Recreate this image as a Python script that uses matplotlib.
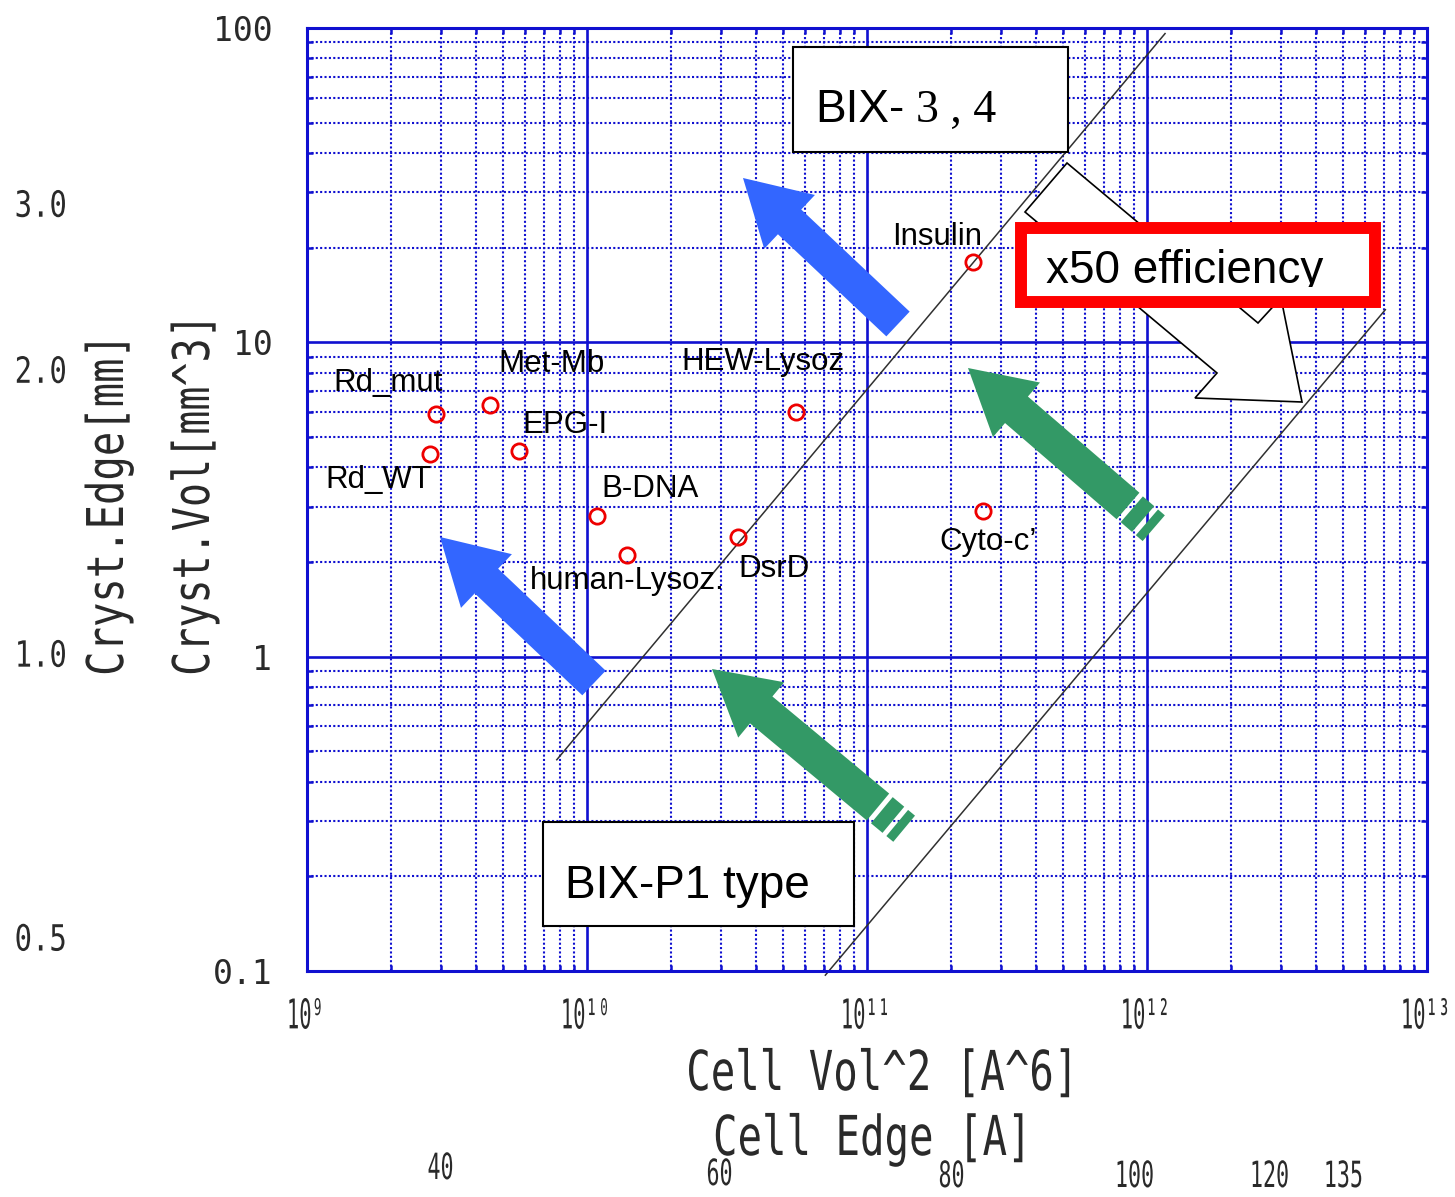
import numpy as np
import matplotlib
matplotlib.use('Agg')
import matplotlib.pyplot as plt
from matplotlib import patheffects
from matplotlib.patches import Polygon, Rectangle
from matplotlib.ticker import NullFormatter
from matplotlib.transforms import Affine2D, Bbox, TransformedBbox, blended_transform_factory

W, H = 1455, 1197

# protein crystals: squared cell volume [A^6] vs crystal volume [mm^3]
names = ['Rd_mut', 'Met-Mb', 'Rd_WT', 'EPG-I', 'B-DNA', 'human-Lysoz.',
         'DsrD', 'HEW-Lysoz', 'Insulin', 'Cyto-c\u2019']
cell_vol2 = [2.9e9, 4.5e9, 2.75e9, 5.7e9, 1.09e10, 1.39e10, 3.45e10, 5.6e10, 2.4e11, 2.6e11]
cryst_vol = [5.9, 6.3, 4.4, 4.5, 2.8, 2.1, 2.4, 6.0, 18.0, 2.9]

# measurable limits of the two diffractometers
bix34_x = [7.8e9, 1.16e12]
bix34_y = [0.47, 96.0]
bixp1_x = [7.1e10, 7.1e12]
bixp1_y = [0.097, 12.7]

x_ticks = [1e9, 1e10, 1e11, 1e12, 1e13]
x_ticklabels = ['10\u2079', '10\u00b9\u2070', '10\u00b9\u00b9', '10\u00b9\u00b2', '10\u00b9\u00b3']
vol_ticks = [0.1, 1, 10, 100]
vol_ticklabels = ['0.1', '1', '10', '100']
edge_mm = [3.0, 2.0, 1.0, 0.5]
cell_edge = [40, 60, 80, 100, 120, 135]

# label offsets from each crystal marker (points)
label_offsets = [(-35, 16.5), (44, 24), (-37, -24.5), (33, 13), (38, 13.5),
                 (0, -24.5), (26.5, -29), (-24, 30.5), (-26, 12), (3.5, -28)]

BLUE = '#1010d0'
MONO = 'DejaVu Sans Mono'
GREY = '#2a2a2a'

plt.rcParams['font.family'] = ['Liberation Sans', 'DejaVu Sans']


class Squeeze(patheffects.AbstractPathEffect):
    """Narrow the glyphs of a text along its baseline."""
    def __init__(self, sx, anchor='center'):
        super().__init__()
        self.sx = sx
        self.anchor = anchor

    def draw_path(self, renderer, gc, tpath, affine, rgbFace=None):
        xs = tpath.vertices[:, 0]
        if len(xs) == 0:
            return
        if self.anchor == 'left':
            x0 = 0.0
        elif self.anchor == 'right':
            x0 = xs.max()
        else:
            x0 = 0.5 * (xs.min() + xs.max())
        t = Affine2D().translate(-x0, 0).scale(self.sx, 1).translate(x0, 0)
        renderer.draw_path(gc, tpath, t + affine, rgbFace)


fig = plt.figure(figsize=(W / 100, H / 100), dpi=100)
ax = fig.add_axes([307 / W, 1 - 971 / H, 1120 / W, 943 / H])
# pixel layout transform (origin top-left)
px = Affine2D().scale(1 / W, -1 / H).translate(0, 1) + fig.transFigure

ax.set_xscale('log')
ax.set_yscale('log')
ax.set_xlim(1e9, 1e13)
ax.set_ylim(0.1, 100)

ax.grid(which='major', color=BLUE, lw=1.9, ls='-', zorder=0)
ax.grid(which='minor', color=BLUE, lw=1.5, ls=(0, (1, 1.1)), zorder=0)
ax.set_axisbelow(True)
for sp in ax.spines.values():
    sp.set_color(BLUE)
    sp.set_linewidth(2.2)

ax.set_xticks(x_ticks, x_ticklabels, fontfamily=MONO, fontsize=29.5, color=GREY,
              path_effects=[Squeeze(0.5)])
ax.set_yticks(vol_ticks, vol_ticklabels, fontfamily=MONO, fontsize=23.8, color=GREY)
ax.xaxis.set_minor_formatter(NullFormatter())
ax.yaxis.set_minor_formatter(NullFormatter())
ax.tick_params(axis='x', which='major', length=0, pad=19)
ax.tick_params(axis='y', which='major', length=0, pad=25)
ax.tick_params(which='minor', direction='in', length=4.5, width=1.8, color=BLUE,
               top=True, right=True)

# instrument limits
ax.plot(bix34_x, bix34_y, color='#303030', lw=1.1, zorder=2, clip_on=False)
ax.plot(bixp1_x, bixp1_y, color='#303030', lw=1.1, zorder=2, clip_on=False)

# crystals
ax.plot(cell_vol2, cryst_vol, 'o', mfc='none', mec='#ee0000', ms=11, mew=2.0, zorder=3)
for name, xv, yv, off in zip(names, cell_vol2, cryst_vol, label_offsets):
    ax.annotate(name, (xv, yv), xytext=off, textcoords='offset points',
                ha='center', va='baseline', fontsize=22.5, zorder=3)


def arrow_poly(tail, tip, w, hw, hl):
    tail = np.asarray(tail, float)
    tip = np.asarray(tip, float)
    u = (tip - tail) / np.hypot(*(tip - tail))
    n = np.array([-u[1], u[0]])
    base = tip - u * hl
    return np.array([tail + n * w / 2, base + n * w / 2, base + n * hw / 2, tip,
                     base - n * hw / 2, base - n * w / 2, tail - n * w / 2])


def stripes(tail, tip, w, parts):
    tail = np.asarray(tail, float)
    tip = np.asarray(tip, float)
    u = (tip - tail) / np.hypot(*(tip - tail))
    n = np.array([-u[1], u[0]])
    out, s = [], 0.0
    for gap, thick in parts:
        a = tail - u * (s + gap)
        b = tail - u * (s + gap + thick)
        out.append(np.array([a + n * w / 2, b + n * w / 2, b - n * w / 2, a - n * w / 2]))
        s += gap + thick
    return out


# blue arrows
for tail, tip in [((898, 324), (743, 178)), ((594, 683), (440, 537))]:
    fig.patches.append(Polygon(arrow_poly(tail, tip, 34, 74, 64), closed=True,
                               transform=px, fc='#3366ff', ec='none', zorder=4))
# green arrows with broken tails
for tail, tip in [((1128, 506), (968, 368)), ((878, 807), (712, 669))]:
    fig.patches.append(Polygon(arrow_poly(tail, tip, 35, 72, 64), closed=True,
                               transform=px, fc='#339966', ec='none', zorder=4))
    for st in stripes(tail, tip, 34, [(5, 15), (5, 9)]):
        fig.patches.append(Polygon(st, closed=True, transform=px,
                                   fc='#339966', ec='none', zorder=4))

# white outlined arrow
white_arrow = [(1067, 163), (1025, 212), (1217, 373), (1195, 398), (1302, 402),
               (1281, 298), (1258, 323)]
fig.patches.append(Polygon(white_arrow, closed=True, transform=px, fc='white',
                           ec='black', lw=1.2, zorder=5))

# labelled boxes
fig.patches.append(Rectangle((793, 47), 275, 105, transform=px, fc='white',
                             ec='black', lw=1.5, zorder=6))
fig.text(815, 122, 'BIX-', transform=px, fontsize=33, va='baseline', zorder=7)
fig.text(916, 122, '3 , 4', transform=px, fontsize=33, va='baseline', zorder=7,
         family=['Liberation Serif', 'DejaVu Serif'])

fig.patches.append(Rectangle((543, 822), 311, 104, transform=px, fc='white',
                             ec='black', lw=1.5, zorder=6))
fig.text(565, 898, 'BIX-P1 type', transform=px, fontsize=33, va='baseline', zorder=7)

fig.patches.append(Rectangle((1021, 228), 354, 74, transform=px, fc='white',
                             ec='#ff0000', lw=8.6, zorder=6))
t = fig.text(1046, 283, 'x50 efficiency', transform=px, fontsize=33,
             va='baseline', zorder=7)
t.set_clip_box(TransformedBbox(Bbox.from_extents(1027 / W, 1 - 287 / H, 1370 / W, 1 - 234 / H),
                               fig.transFigure))

# crystal edge scale on the left, cell edge scale at the bottom
edge_tr = blended_transform_factory(px, ax.transData)
for e in edge_mm:
    fig.text(41, e ** 3, f'{e:.1f}', transform=edge_tr, ha='center', va='center',
             fontfamily=MONO, fontsize=26, color=GREY, path_effects=[Squeeze(0.8)])

edge_label_px = [(441, 1179), (720, 1185), (952, 1187), (1135, 1187), (1270, 1187), (1344, 1187)]
for a, (xp, yp) in zip(cell_edge, edge_label_px):
    fig.text(xp, yp, str(a), transform=px, ha='center', va='baseline',
             fontfamily=MONO, fontsize=26, color=GREY, path_effects=[Squeeze(0.6)])

fig.text(884, 1090, 'Cell Vol^2 [A^6]', transform=px, ha='center', va='baseline',
         fontfamily=MONO, fontsize=39.6, color=GREY, path_effects=[Squeeze(0.74)])
fig.text(874, 1155, 'Cell Edge [A]', transform=px, ha='center', va='baseline',
         fontfamily=MONO, fontsize=39.6, color=GREY, path_effects=[Squeeze(0.74)])
fig.text(109, 504, 'Cryst.Edge[mm]', transform=px, ha='center', va='center', rotation=90,
         fontfamily=MONO, fontsize=36.5, color=GREY, path_effects=[Squeeze(0.8)])
fig.text(195, 494, 'Cryst.Vol[mm^3]', transform=px, ha='center', va='center', rotation=90,
         fontfamily=MONO, fontsize=36.5, color=GREY, path_effects=[Squeeze(0.79)])

fig.savefig('out.png', dpi=100)
